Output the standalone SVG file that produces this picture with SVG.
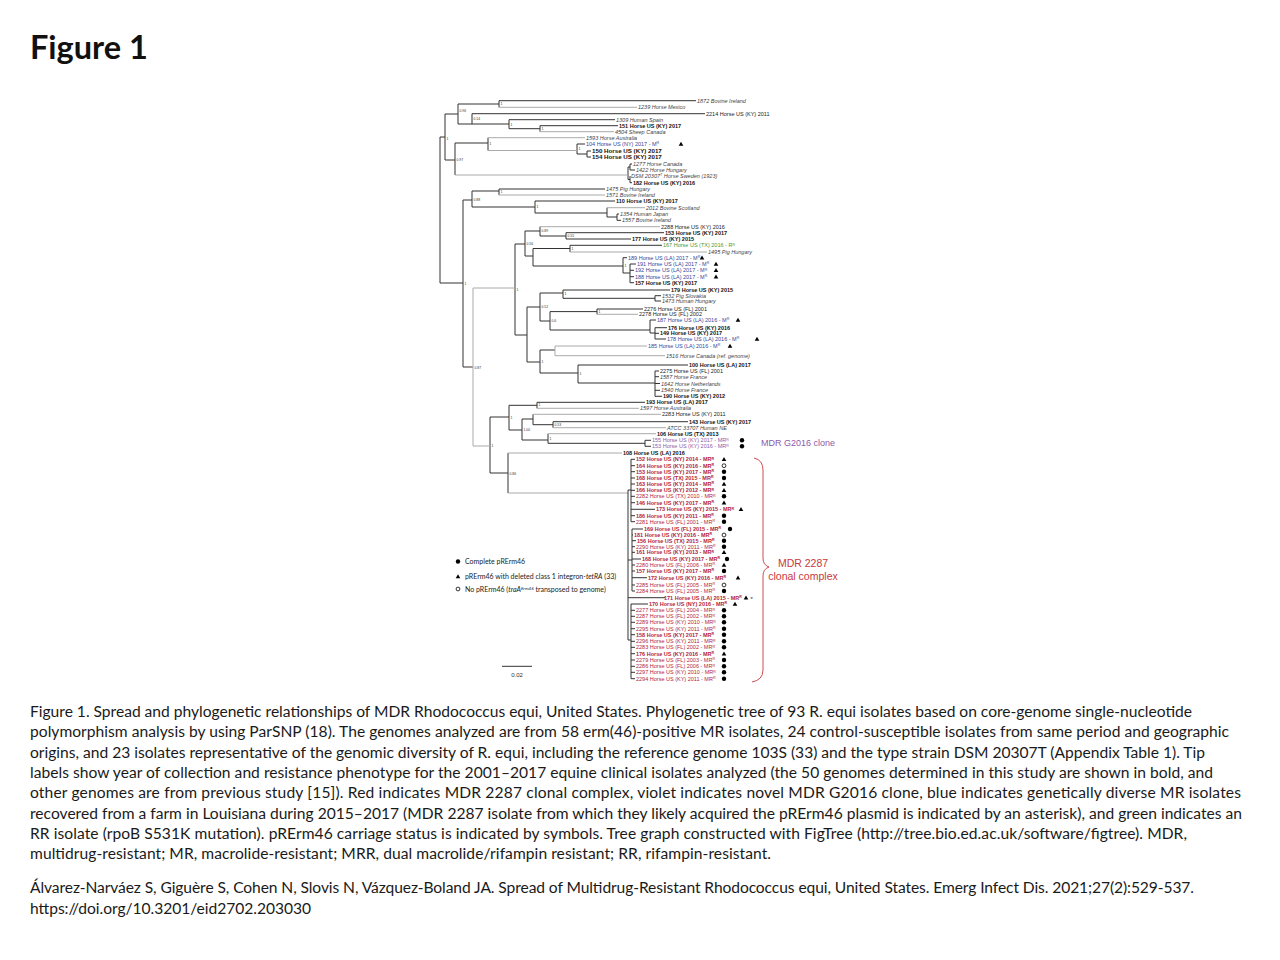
<svg xmlns="http://www.w3.org/2000/svg" xmlns:xlink="http://www.w3.org/1999/xlink" width="1280" height="960" viewBox="0 0 1280 960">
<style>
.cap{font-family:Lato,"Open Sans","Liberation Sans",sans-serif;font-size:15.6px;fill:#1a1a1a}
.ttl{font-family:Lato,"Liberation Sans",sans-serif;font-size:32.5px;font-weight:bold;fill:#111}
.t{font-family:"Liberation Sans",Arial,sans-serif;font-size:5.5px;fill:#222}
.b{font-weight:bold;fill:#111}
.i{font-style:italic;fill:#444}
.bl{fill:#34479a}
.gr{fill:#3f9a3f}
.vi{fill:#8e5aa8}
.rd{fill:#b3243b}
.nl{font-family:"Liberation Sans",Arial,sans-serif;font-size:3.4px;fill:#333}
.br{stroke:#333;stroke-width:1;fill:none}
.bg{stroke:#aaa;stroke-width:1;fill:none}
.lg{font-family:Lato,"Liberation Sans",sans-serif;font-size:7px;fill:#222}
</style>
<defs>
<path id="tri" d="M0 -2.3 L2.3 1.8 L-2.3 1.8 Z" fill="#000"/>
<circle id="dot" r="2.2" fill="#000"/>
<circle id="ring" r="1.9" fill="none" stroke="#000" stroke-width="0.8"/>
</defs>
<rect width="1280" height="960" fill="#fff"/>
<text class="ttl" x="30" y="59">Figure 1</text>

<g id="connectors">
<path class="br" d="M440 137V283 M440 137H445 M445 114V160 M445 114H458 M458 104V124 M458 104H499 M499 100.7V107.3 M499 100.7H696 M458 124H472 M472 113.7V124 M472 113.7H705 M472 124H509 M509 119.7V128.7 M509 119.7H615 M509 128.7H540 M540 125.7V131.7 M540 125.7H618 M445 160H455 M455 143V175 M455 143H488 M488 137.7V150.5 M577 144V154 M577 144H585 M577 154H587 M587 151V157 M587 151H591 M587 157H591 M628 167V179.5 M628 167H630 M630 164V170 M630 164H632 M630 170H635 M628 179.5H630 M630 176V182.7 M630 182.7H632"/>
<path class="br" d="M440 283H463 M463 200V367 M463 200H472 M472 191V207 M472 191H499 M499 189V195 M499 189H605 M472 207H535 M535 201V213 M535 201H615 M535 213H607 M607 207.7V217 M607 217H617 M617 214V220.3 M617 214H619 M617 220.3H621 M463 367H473"/>
<path class="br" d="M515 244V335 M515 244H525 M525 231V256 M525 231H540 M540 226.7V236 M540 236H566 M566 232.7V239 M566 232.7H664 M566 239H631 M525 256H533 M533 248.5V266 M533 248.5H570 M570 245.3V252 M570 245.3H662 M533 266H623 M623 257.7V273 M623 257.7H627 M623 273H630 M630 264V282.7 M630 264H636 M630 270.3H634 M630 276.7H634 M630 282.7H634"/>
<path class="br" d="M515 335H527 M527 307V362 M527 307H540 M540 293V321 M540 293H563 M563 290V298.3 M563 290H670 M563 298.3H655 M655 295.7V301 M655 295.7H661 M655 301H661 M540 321H550 M550 311.6V330 M550 311.6H597 M597 309V314.3 M597 309H643 M550 330H650 M650 320V333 M650 320H656 M650 333H655 M655 327.7V339 M655 327.7H667 M655 333.3H659 M655 339H666 M527 362H540 M540 350V373 M540 350H555 M540 373H578 M578 365V383 M578 365H688 M578 383H655 M655 371V396.3 M655 371H659 M655 376.7H659 M655 383.5H660 M655 390.3H660 M655 396.3H662"/>
<path class="br" d="M490 417V473 M490 417H509 M509 405.3V430 M509 405.3H537 M537 402.3V408.3 M537 402.3H645 M509 430H522 M522 419V440 M522 419H533 M533 414.3V424.7 M533 424.7H553 M553 421.7V427.7 M553 421.7H688 M522 440H548 M548 433.7V443.3 M548 443.3H645 M645 440.3V446.3 M645 440.3H651 M645 446.3H651 M490 473H508 M508 453V493"/>
<path class="bg" d="M499 107.3H637 M540 131.7H614 M488 137.7H585 M488 150.5H577 M455 175H628 M499 195H605 M607 207.7H645 M540 226.7H660 M570 252H707 M473 288V446 M473 288H515 M473 446H490 M555 346V355.7 M555 346H647 M555 355.7H665 M537 408.3H639 M533 414.3H661 M553 427.7H666 M548 433.7H656 M597 314.3H638 M508 453H622 M508 493H628"/>
<path class="br" d="M628 490V640 M628 490H631 M631 459.3V521.7 M631 459.3H635 M631 465.7H635 M631 471.7H635 M631 478H635 M631 484H635 M631 490.3H635 M631 496.3H635 M631 502.7H635 M631 509.3H655 M631 515.7H635 M631 521.7H635 M628 560H632 M632 529V591 M632 529H643 M632 535H633 M632 540.7H636 M632 546.7H635 M632 552.3H635 M632 559H641 M632 565H635 M632 571H635 M632 577.7H647 M632 585H635 M632 591H635 M628 597.7H665 M628 640H631 M631 604V678.7 M631 604H648 M631 610.3H635 M631 616.3H635 M631 622.3H635 M631 628.7H635 M631 634.7H635 M631 641.3H635 M631 647.3H635 M631 653.7H635 M631 660H635 M631 666.3H635 M631 672.3H635 M631 678.7H635"/>
<path d="M754 458 Q763 460 763 470 V558 Q763 565 769 567 Q763 569 763 576 V670 Q763 680 752 682" stroke="#c8383c" stroke-width="0.9" fill="none"/>
<path d="M502 666.3H532" stroke="#333" stroke-width="1"/>
</g>

<g id="node-labels" class="nl">
<text x="446.5" y="140">1</text><text x="459.5" y="112">0.96</text><text x="500.5" y="105">1</text><text x="473.5" y="120">0.14</text><text x="510.5" y="125.5">1</text><text x="541.5" y="130">1</text><text x="456.5" y="161">0.97</text><text x="489.5" y="145">1</text><text x="578.5" y="150">1</text>
<text x="464.5" y="285">1</text><text x="473.5" y="201">0.88</text><text x="500.5" y="193">1</text><text x="536.5" y="208">1</text><text x="474.5" y="369">0.87</text>
<text x="516.5" y="291">1</text><text x="526.5" y="245">0.56</text><text x="541.5" y="232">0.89</text><text x="567.5" y="237">0.55</text><text x="571.5" y="250">1</text><text x="624.5" y="267">1</text>
<text x="541.5" y="308">0.52</text><text x="564.5" y="295">1</text><text x="551.5" y="322">0.6</text><text x="598.5" y="313">1</text><text x="541.5" y="363">1</text><text x="579.5" y="375">1</text>
<text x="491.5" y="447">1</text><text x="510.5" y="419">1</text><text x="538.5" y="406">1</text><text x="523.5" y="431">1.00</text><text x="554.5" y="426">0.53</text><text x="549.5" y="440">1</text><text x="509.5" y="475">0.86</text>
</g>

<g id="leaves" class="t">
<g id="l1872"><text class="i" x="697" y="102.7">1872 Bovine Ireland</text></g>
<g id="l1239"><text class="i" x="638" y="109.3">1239 Horse Mexico</text></g>
<g id="l2214"><text x="706" y="115.7">2214 Horse US (KY) 2011</text></g>
<g id="l1309"><text class="i" x="616" y="121.7">1309 Human Spain</text></g>
<g id="l151"><text class="b" x="619" y="127.7">151 Horse US (KY) 2017</text></g>
<g id="l4504"><text class="i" x="615" y="133.7">4504 Sheep Canada</text></g>
<g id="l1593"><text class="i" x="586" y="139.7">1593 Horse Australia</text></g>
<g id="l104"><text class="bl" x="586" y="146">104 Horse US (NY) 2017 - M<tspan dy="-1.8" font-size="3.6">R</tspan></text><use href="#tri" x="681" y="144"/></g>
<g id="l150"><text class="b" x="592" y="153.2" font-size="6.2">150 Horse US (KY) 2017</text></g>
<g id="l154"><text class="b" x="592" y="159.2" font-size="6.2">154 Horse US (KY) 2017</text></g>
<g id="l1277"><text class="i" x="633" y="166">1277 Horse Canada</text></g>
<g id="l1422"><text class="i" x="636" y="172">1422 Horse Hungary</text></g>
<g id="ldsm"><text class="i" x="631" y="178">DSM 20307<tspan dy="-1.8" font-size="3.6">T</tspan><tspan dy="1.8"> Horse Sweden (1923)</tspan></text></g>
<g id="l182"><text class="b" x="633" y="184.7">182 Horse US (KY) 2016</text></g>
<g id="l1475"><text class="i" x="606" y="191">1475 Pig Hungary</text></g>
<g id="l1571"><text class="i" x="606" y="197">1571 Bovine Ireland</text></g>
<g id="l110"><text class="b" x="616" y="203">110 Horse US (KY) 2017</text></g>
<g id="l2012"><text class="i" x="646" y="209.7">2012 Bovine Scotland</text></g>
<g id="l1354"><text class="i" x="620" y="216">1354 Human Japan</text></g>
<g id="l1557"><text class="i" x="622" y="222.3">1557 Bovine Ireland</text></g>
<g id="l2288"><text x="661" y="228.7">2288 Horse US (KY) 2016</text></g>
<g id="l153a"><text class="b" x="665" y="234.7">153 Horse US (KY) 2017</text></g>
<g id="l177"><text class="b" x="632" y="241">177 Horse US (KY) 2015</text></g>
<g id="l167"><text class="gr" x="663" y="247.3">167 Horse US (TX) 2016 - R<tspan dy="-1.8" font-size="3.6">R</tspan></text></g>
<g id="l1495"><text class="i" x="708" y="254">1495 Pig Hungary</text></g>
<g id="l189"><text class="bl" x="628" y="259.7">189 Horse US (LA) 2017 - M<tspan dy="-1.8" font-size="3.6">R</tspan></text><use href="#tri" x="702" y="257.7"/></g>
<g id="l191"><text class="bl" x="637" y="266">191 Horse US (LA) 2017 - M<tspan dy="-1.8" font-size="3.6">R</tspan></text><use href="#tri" x="716" y="264"/></g>
<g id="l192"><text class="bl" x="635" y="272.3">192 Horse US (LA) 2017 - M<tspan dy="-1.8" font-size="3.6">R</tspan></text><use href="#tri" x="716" y="270.3"/></g>
<g id="l188"><text class="bl" x="635" y="278.7">188 Horse US (LA) 2017 - M<tspan dy="-1.8" font-size="3.6">R</tspan></text><use href="#tri" x="716" y="276.7"/></g>
<g id="l157a"><text class="b" x="635" y="284.7">157 Horse US (KY) 2017</text></g>
<g id="l179"><text class="b" x="671" y="292">179 Horse US (KY) 2015</text></g>
<g id="l1532"><text class="i" x="662" y="297.7">1532 Pig Slovakia</text></g>
<g id="l1473"><text class="i" x="662" y="303">1473 Human Hungary</text></g>
<g id="l2276"><text x="644" y="311">2276 Horse US (FL) 2001</text></g>
<g id="l2278"><text x="639" y="316.3">2278 Horse US (FL) 2002</text></g>
<g id="l187"><text class="bl" x="657" y="322">187 Horse US (LA) 2016 - M<tspan dy="-1.8" font-size="3.6">R</tspan></text><use href="#tri" x="738" y="320"/></g>
<g id="l176a"><text class="b" x="668" y="329.7">176 Horse US (KY) 2016</text></g>
<g id="l149"><text class="b" x="660" y="335.3">149 Horse US (KY) 2017</text></g>
<g id="l178"><text class="bl" x="667" y="341">178 Horse US (LA) 2016 - M<tspan dy="-1.8" font-size="3.6">R</tspan></text><use href="#tri" x="757" y="339"/></g>
<g id="l185"><text class="bl" x="648" y="348">185 Horse US (LA) 2016 - M<tspan dy="-1.8" font-size="3.6">R</tspan></text><use href="#tri" x="730" y="346"/></g>
<g id="l1516"><text class="i" x="666" y="357.7">1516 Horse Canada (ref. genome)</text></g>
<g id="l100"><text class="b" x="689" y="367">100 Horse US (LA) 2017</text></g>
<g id="l2275"><text x="660" y="373">2275 Horse US (FL) 2001</text></g>
<g id="l1587"><text class="i" x="660" y="378.7">1587 Horse France</text></g>
<g id="l1642"><text class="i" x="661" y="385.5">1642 Horse Netherlands</text></g>
<g id="l1540"><text class="i" x="661" y="392.3">1540 Horse France</text></g>
<g id="l190"><text class="b" x="663" y="398.3">190 Horse US (KY) 2012</text></g>
<g id="l193"><text class="b" x="646" y="404.3">193 Horse US (LA) 2017</text></g>
<g id="l1597"><text class="i" x="640" y="410.3">1597 Horse Australia</text></g>
<g id="l2283a"><text x="662" y="416.3">2283 Horse US (KY) 2011</text></g>
<g id="l143"><text class="b" x="689" y="423.7">143 Horse US (KY) 2017</text></g>
<g id="latcc"><text class="i" x="667" y="429.7">ATCC 33707 Human NE</text></g>
<g id="l106"><text class="b" x="657" y="435.7">106 Horse US (TX) 2013</text></g>
<g id="l155v"><text class="vi" x="652" y="442.3">155 Horse US (KY) 2017 - MR<tspan dy="-1.8" font-size="3.6">R</tspan></text><use href="#dot" x="742" y="440.3"/></g>
<g id="l153v"><text class="vi" x="652" y="448.3">153 Horse US (KY) 2016 - MR<tspan dy="-1.8" font-size="3.6">R</tspan></text><use href="#dot" x="742" y="446.3"/></g>
<g id="l108"><text class="b" x="623" y="455">108 Horse US (LA) 2016</text></g>

<g id="l152"><text class="rd b" x="636" y="461.3">152 Horse US (NY) 2014 - MR<tspan dy="-1.8" font-size="3.6">R</tspan></text><use href="#tri" x="724" y="459.3"/></g>
<g id="l164"><text class="rd b" x="636" y="467.7">164 Horse US (KY) 2016 - MR<tspan dy="-1.8" font-size="3.6">R</tspan></text><use href="#ring" x="724" y="465.7"/></g>
<g id="l153r"><text class="rd b" x="636" y="473.7">153 Horse US (KY) 2017 - MR<tspan dy="-1.8" font-size="3.6">R</tspan></text><use href="#dot" x="724" y="471.7"/></g>
<g id="l168a"><text class="rd b" x="636" y="480">168 Horse US (TX) 2015 - MR<tspan dy="-1.8" font-size="3.6">R</tspan></text><use href="#dot" x="724" y="478"/></g>
<g id="l163"><text class="rd b" x="636" y="486">163 Horse US (KY) 2014 - MR<tspan dy="-1.8" font-size="3.6">R</tspan></text><use href="#tri" x="724" y="484"/></g>
<g id="l166"><text class="rd b" x="636" y="492.3">166 Horse US (KY) 2012 - MR<tspan dy="-1.8" font-size="3.6">R</tspan></text><use href="#tri" x="724" y="490.3"/></g>
<g id="l2282"><text class="rd" x="636" y="498.3">2282 Horse US (TX) 2010 - MR<tspan dy="-1.8" font-size="3.6">R</tspan></text><use href="#dot" x="724" y="496.3"/></g>
<g id="l146"><text class="rd b" x="636" y="504.7">146 Horse US (KY) 2017 - MR<tspan dy="-1.8" font-size="3.6">R</tspan></text><use href="#tri" x="724" y="502.7"/></g>
<g id="l173"><text class="rd b" x="656" y="511.3">173 Horse US (KY) 2015 - MR<tspan dy="-1.8" font-size="3.6">R</tspan></text><use href="#tri" x="741" y="509.3"/></g>
<g id="l186"><text class="rd b" x="636" y="517.7">186 Horse US (KY) 2011 - MR<tspan dy="-1.8" font-size="3.6">R</tspan></text><use href="#dot" x="724" y="515.7"/></g>
<g id="l2281"><text class="rd" x="636" y="523.7">2281 Horse US (FL) 2001 - MR<tspan dy="-1.8" font-size="3.6">R</tspan></text><use href="#dot" x="724" y="521.7"/></g>
<g id="l169"><text class="rd b" x="644" y="531">169 Horse US (FL) 2015 - MR<tspan dy="-1.8" font-size="3.6">R</tspan></text><use href="#dot" x="730" y="529"/></g>
<g id="l181"><text class="rd b" x="634" y="537">181 Horse US (KY) 2016 - MR<tspan dy="-1.8" font-size="3.6">R</tspan></text><use href="#ring" x="724" y="535"/></g>
<g id="l156"><text class="rd b" x="637" y="542.7">156 Horse US (TX) 2015 - MR<tspan dy="-1.8" font-size="3.6">R</tspan></text><use href="#dot" x="724" y="540.7"/></g>
<g id="l2290"><text class="rd" x="636" y="548.7">2290 Horse US (KY) 2011 - MR<tspan dy="-1.8" font-size="3.6">R</tspan></text><use href="#dot" x="724" y="546.7"/></g>
<g id="l161"><text class="rd b" x="636" y="554.3">161 Horse US (KY) 2013 - MR<tspan dy="-1.8" font-size="3.6">R</tspan></text><use href="#tri" x="724" y="552.3"/></g>
<g id="l168b"><text class="rd b" x="642" y="561">168 Horse US (KY) 2017 - MR<tspan dy="-1.8" font-size="3.6">R</tspan></text><use href="#dot" x="727" y="559"/></g>
<g id="l2280"><text class="rd" x="636" y="567">2280 Horse US (FL) 2006 - MR<tspan dy="-1.8" font-size="3.6">R</tspan></text><use href="#tri" x="724" y="565"/></g>
<g id="l157r"><text class="rd b" x="636" y="573">157 Horse US (KY) 2017 - MR<tspan dy="-1.8" font-size="3.6">R</tspan></text><use href="#dot" x="724" y="571"/></g>
<g id="l172"><text class="rd b" x="648" y="579.7">172 Horse US (KY) 2016 - MR<tspan dy="-1.8" font-size="3.6">R</tspan></text><use href="#tri" x="738" y="577.7"/></g>
<g id="l2285"><text class="rd" x="636" y="587">2285 Horse US (FL) 2005 - MR<tspan dy="-1.8" font-size="3.6">R</tspan></text><use href="#ring" x="724" y="585"/></g>
<g id="l2284"><text class="rd" x="636" y="593">2284 Horse US (FL) 2005 - MR<tspan dy="-1.8" font-size="3.6">R</tspan></text><use href="#dot" x="724" y="591"/></g>
<g id="l171"><text class="rd b" x="664" y="599.7">171 Horse US (LA) 2015 - MR<tspan dy="-1.8" font-size="3.6">R</tspan></text><use href="#tri" x="746" y="597.7"/><text x="750.5" y="601" font-size="6">*</text></g>
<g id="l170"><text class="rd b" x="649" y="606">170 Horse US (NY) 2016 - MR<tspan dy="-1.8" font-size="3.6">R</tspan></text><use href="#tri" x="735" y="604"/></g>
<g id="l2277"><text class="rd" x="636" y="612.3">2277 Horse US (FL) 2004 - MR<tspan dy="-1.8" font-size="3.6">R</tspan></text><use href="#dot" x="724" y="610.3"/></g>
<g id="l2287"><text class="rd" x="636" y="618.3">2287 Horse US (FL) 2002 - MR<tspan dy="-1.8" font-size="3.6">R</tspan></text><use href="#dot" x="724" y="616.3"/></g>
<g id="l2289"><text class="rd" x="636" y="624.3">2289 Horse US (KY) 2010 - MR<tspan dy="-1.8" font-size="3.6">R</tspan></text><use href="#dot" x="724" y="622.3"/></g>
<g id="l2295"><text class="rd" x="636" y="630.7">2295 Horse US (KY) 2011 - MR<tspan dy="-1.8" font-size="3.6">R</tspan></text><use href="#dot" x="724" y="628.7"/></g>
<g id="l158"><text class="rd b" x="636" y="636.7">158 Horse US (KY) 2017 - MR<tspan dy="-1.8" font-size="3.6">R</tspan></text><use href="#dot" x="724" y="634.7"/></g>
<g id="l2296"><text class="rd" x="636" y="643.3">2296 Horse US (KY) 2011 - MR<tspan dy="-1.8" font-size="3.6">R</tspan></text><use href="#dot" x="724" y="641.3"/></g>
<g id="l2283b"><text class="rd" x="636" y="649.3">2283 Horse US (FL) 2002 - MR<tspan dy="-1.8" font-size="3.6">R</tspan></text><use href="#dot" x="724" y="647.3"/></g>
<g id="l176b"><text class="rd b" x="636" y="655.7">176 Horse US (KY) 2016 - MR<tspan dy="-1.8" font-size="3.6">R</tspan></text><use href="#tri" x="724" y="653.7"/></g>
<g id="l2279"><text class="rd" x="636" y="662">2279 Horse US (FL) 2003 - MR<tspan dy="-1.8" font-size="3.6">R</tspan></text><use href="#dot" x="724" y="660"/></g>
<g id="l2286"><text class="rd" x="636" y="668.3">2286 Horse US (FL) 2006 - MR<tspan dy="-1.8" font-size="3.6">R</tspan></text><use href="#dot" x="724" y="666.3"/></g>
<g id="l2297"><text class="rd" x="636" y="674.3">2297 Horse US (KY) 2010 - MR<tspan dy="-1.8" font-size="3.6">R</tspan></text><use href="#dot" x="724" y="672.3"/></g>
<g id="l2294"><text class="rd" x="636" y="680.7">2294 Horse US (KY) 2011 - MR<tspan dy="-1.8" font-size="3.6">R</tspan></text><use href="#dot" x="724" y="678.7"/></g>
</g>

<g id="clade-g2016"><text x="761" y="446" font-family="Liberation Sans,Arial,sans-serif" font-size="9" fill="#8e5aa8">MDR G2016 clone</text></g>
<g id="clade-2287" font-family="Liberation Sans,Arial,sans-serif" font-size="10.5" fill="#c8383c" text-anchor="middle">
<text x="803" y="567">MDR 2287</text><text x="803" y="580">clonal complex</text>
</g>

<g id="legend" class="lg">
<use href="#dot" x="458" y="561.5"/><text x="465" y="564">Complete pRErm46</text>
<use href="#tri" x="458" y="576.5"/><text x="465" y="579">pRErm46 with deleted class 1 integron-<tspan font-style="italic">tetRA</tspan> (33)</text>
<use href="#ring" x="458" y="589"/><text x="465" y="591.5">No pRErm46 (<tspan font-style="italic">traA</tspan><tspan dy="-2" font-size="4.6" font-style="italic">Erm46</tspan><tspan dy="2"> transposed to genome)</tspan></text>
</g>

<g id="scale"><text x="517" y="677" font-family="Liberation Sans,Arial,sans-serif" font-size="6" fill="#333" text-anchor="middle">0.02</text></g>

<g id="caption" class="cap">
<text x="30" y="717" textLength="1162" lengthAdjust="spacing">Figure 1. Spread and phylogenetic relationships of MDR Rhodococcus equi, United States. Phylogenetic tree of 93 R. equi isolates based on core-genome single-nucleotide</text>
<text x="30" y="737.3" textLength="1199" lengthAdjust="spacing">polymorphism analysis by using ParSNP (18). The genomes analyzed are from 58 erm(46)-positive MR isolates, 24 control-susceptible isolates from same period and geographic</text>
<text x="30" y="757.6" textLength="1175" lengthAdjust="spacing">origins, and 23 isolates representative of the genomic diversity of R. equi, including the reference genome 103S (33) and the type strain DSM 20307T (Appendix Table 1). Tip</text>
<text x="30" y="777.9" textLength="1183" lengthAdjust="spacing">labels show year of collection and resistance phenotype for the 2001–2017 equine clinical isolates analyzed (the 50 genomes determined in this study are shown in bold, and</text>
<text x="30" y="798.2" textLength="1211" lengthAdjust="spacing">other genomes are from previous study [15]). Red indicates MDR 2287 clonal complex, violet indicates novel MDR G2016 clone, blue indicates genetically diverse MR isolates</text>
<text x="30" y="818.5" textLength="1212" lengthAdjust="spacing">recovered from a farm in Louisiana during 2015–2017 (MDR 2287 isolate from which they likely acquired the pRErm46 plasmid is indicated by an asterisk), and green indicates an</text>
<text x="30" y="838.8" textLength="1157" lengthAdjust="spacing">RR isolate (rpoB S531K mutation). pRErm46 carriage status is indicated by symbols. Tree graph constructed with FigTree (http://tree.bio.ed.ac.uk/software/figtree). MDR,</text>
<text x="30" y="859.1" textLength="741" lengthAdjust="spacing">multidrug-resistant; MR, macrolide-resistant; MRR, dual macrolide/rifampin resistant; RR, rifampin-resistant.</text>
<text x="30" y="893" textLength="1164" lengthAdjust="spacing">Álvarez-Narváez S, Giguère S, Cohen N, Slovis N, Vázquez-Boland JA. Spread of Multidrug-Resistant Rhodococcus equi, United States. Emerg Infect Dis. 2021;27(2):529-537.</text>
<text x="30" y="913.5" textLength="281" lengthAdjust="spacing">https://doi.org/10.3201/eid2702.203030</text>
</g>
</svg>
